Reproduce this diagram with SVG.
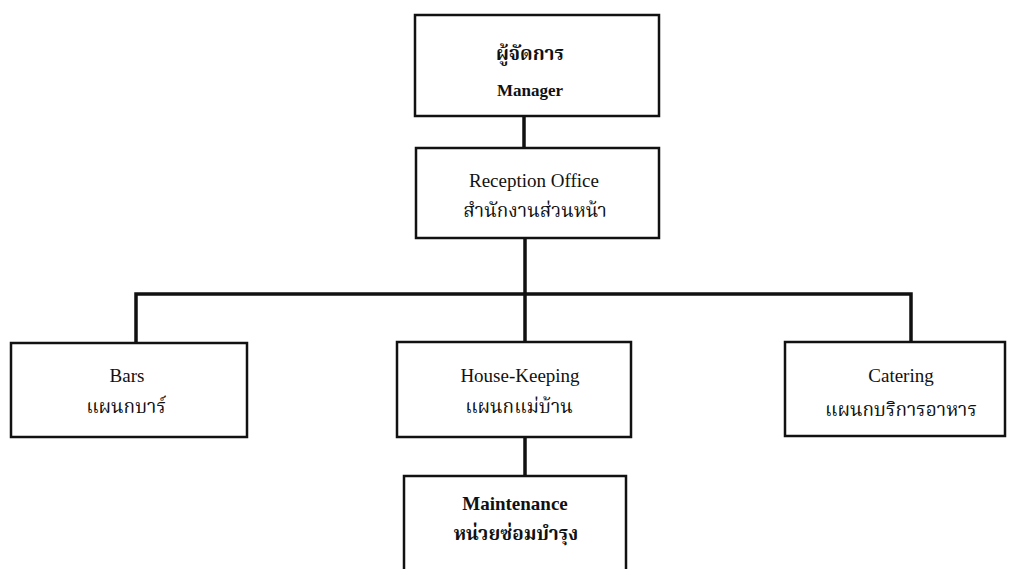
<svg xmlns="http://www.w3.org/2000/svg" width="1009" height="569" viewBox="0 0 1009 569">
<style>
.box{fill:#fff;stroke:#111;stroke-width:2.5}
.t{font-family:"Liberation Serif","Noto Serif Thai","Noto Sans Thai","DejaVu Sans",serif;font-size:19px;fill:#111;text-anchor:middle}
.b{font-weight:bold}
.th{font-size:19px}
.conn{fill:none;stroke:#111;stroke-width:3.5}
</style>
<rect width="1009" height="569" fill="#fff"/>
<g id="connectors">
<path class="conn" d="M524 116V148"/>
<path class="conn" d="M525 238V343"/>
<path class="conn" d="M136 343V294H911V342"/>
<path class="conn" d="M525 437V476"/>
</g>
<g id="manager">
<rect class="box" x="415" y="15" width="244" height="101"/>
<text class="t b th" x="530" y="60">ผู้จัดการ</text>
<text class="t b" x="530" y="96" style="font-size:17px">Manager</text>
</g>
<g id="reception">
<rect class="box" x="416" y="148" width="243" height="90"/>
<text class="t" x="534" y="187">Reception Office</text>
<text class="t th" x="535" y="217">สำนักงานส่วนหน้า</text>
</g>
<g id="bars">
<rect class="box" x="11" y="343" width="236" height="94"/>
<text class="t" x="127" y="382">Bars</text>
<text class="t th" x="126" y="413">แผนกบาร์</text>
</g>
<g id="housekeeping">
<rect class="box" x="397" y="342" width="234" height="95"/>
<text class="t" x="520" y="382">House-Keeping</text>
<text class="t th" x="519" y="413">แผนกแม่บ้าน</text>
</g>
<g id="catering">
<rect class="box" x="785" y="342" width="220" height="94"/>
<text class="t" x="901" y="382">Catering</text>
<text class="t th" x="901" y="416">แผนกบริการอาหาร</text>
</g>
<g id="maintenance">
<rect class="box" x="404" y="476" width="222" height="110"/>
<text class="t b" x="515" y="510">Maintenance</text>
<text class="t b th" x="516" y="540">หน่วยซ่อมบำรุง</text>
</g>
</svg>
